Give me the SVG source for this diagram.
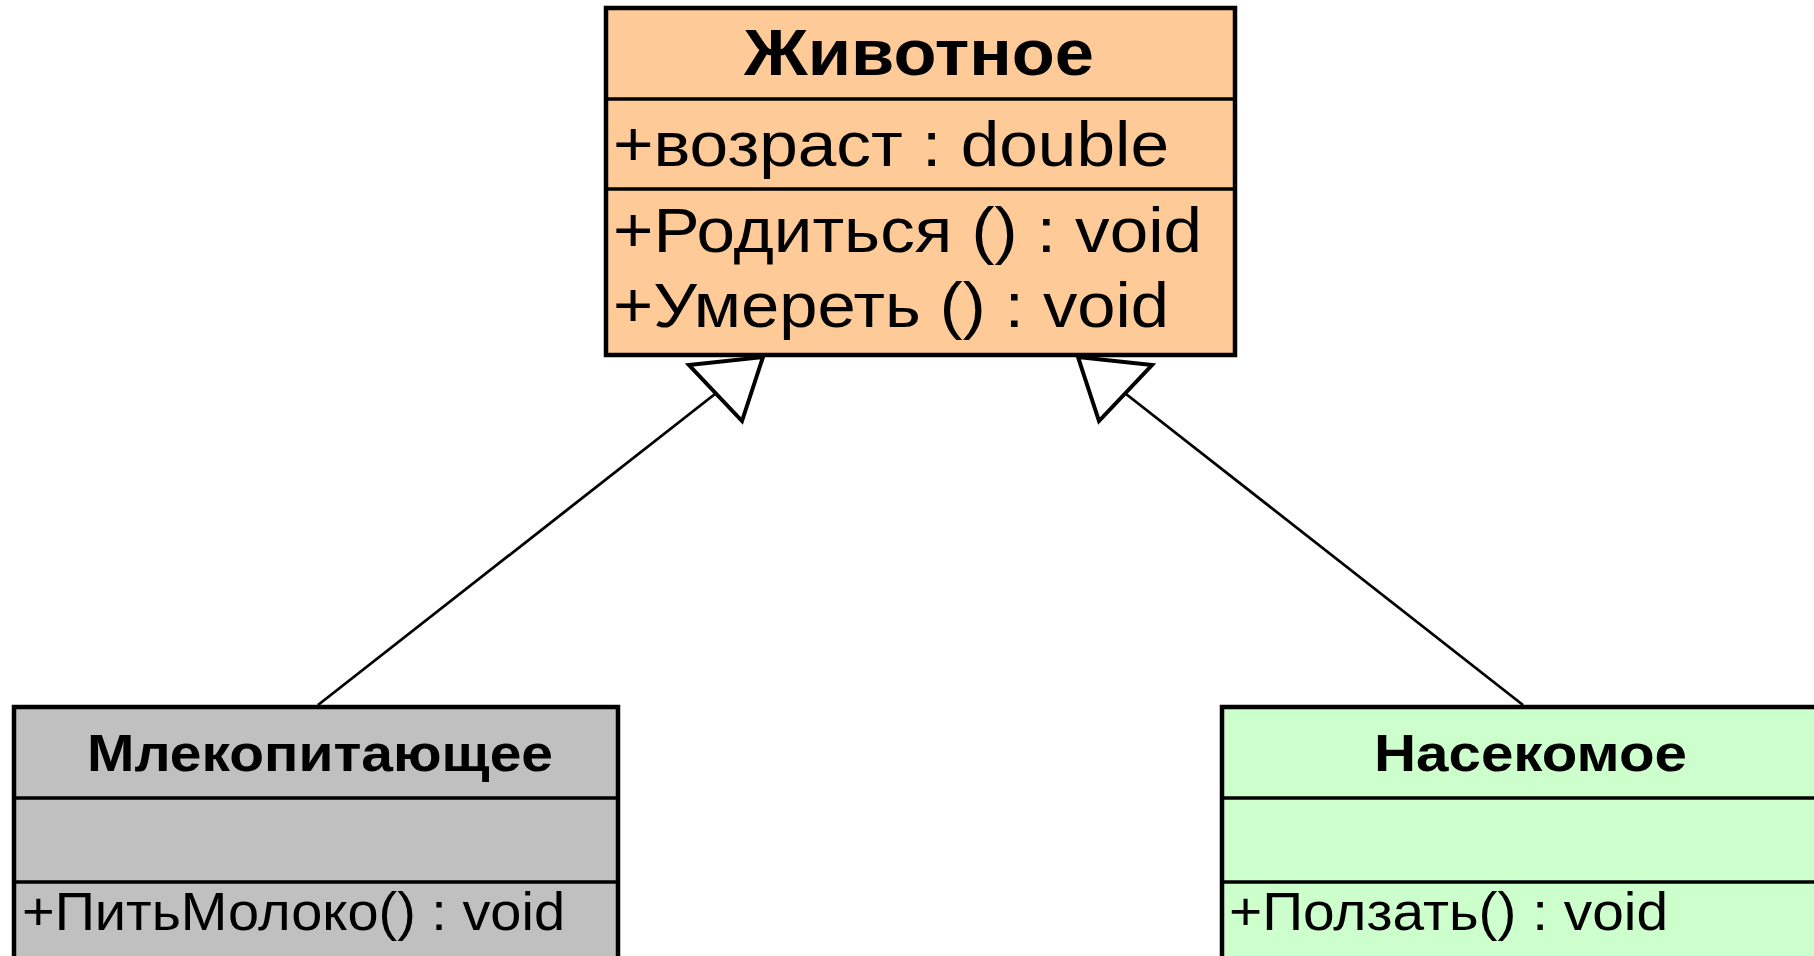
<svg xmlns="http://www.w3.org/2000/svg" width="1814" height="956" viewBox="0 0 1814 956">
  <style>
    .box { stroke: #000; stroke-width: 4.5; }
    .sep { stroke: #000; stroke-width: 3.5; fill: none; }
    .title { font-family: "Liberation Sans", Arial, sans-serif; font-weight: bold; fill: #000; }
    .member { font-family: "Liberation Sans", Arial, sans-serif; fill: #000; }
    .edge { stroke: #000; stroke-width: 2.8; fill: none; }
    .head { stroke: #000; stroke-width: 4; fill: #fff; stroke-linejoin: miter; }
  </style>
  <rect x="0" y="0" width="1814" height="956" fill="#fff"/>

  <!-- Base class -->
  <g id="animal">
    <rect class="box" x="606" y="8" width="629" height="347" fill="#FECB98"/>
    <line class="sep" x1="606" y1="99" x2="1235" y2="99"/>
    <line class="sep" x1="606" y1="189" x2="1235" y2="189"/>
    <text class="title" x="744" y="75" font-size="64" textLength="350" lengthAdjust="spacingAndGlyphs">Животное</text>
    <text class="member" x="613" y="166" font-size="63" textLength="556" lengthAdjust="spacingAndGlyphs">+возраст : double</text>
    <text class="member" x="613" y="252" font-size="63" textLength="589" lengthAdjust="spacingAndGlyphs">+Родиться () : void</text>
    <text class="member" x="613" y="327" font-size="63" textLength="556" lengthAdjust="spacingAndGlyphs">+Умереть () : void</text>
  </g>

  <!-- Subclass: mammal -->
  <g id="mammal">
    <rect class="box" x="14" y="707" width="604" height="300" fill="#C0C0C0"/>
    <line class="sep" x1="14" y1="798" x2="618" y2="798"/>
    <line class="sep" x1="14" y1="882" x2="618" y2="882"/>
    <text class="title" x="87" y="771" font-size="52" textLength="466" lengthAdjust="spacingAndGlyphs">Млекопитающее</text>
    <text class="member" x="22" y="930" font-size="53" textLength="543" lengthAdjust="spacingAndGlyphs">+ПитьМолоко() : void</text>
  </g>

  <!-- Subclass: insect -->
  <g id="insect">
    <rect class="box" x="1222" y="707" width="640" height="300" fill="#CCFFCC"/>
    <line class="sep" x1="1222" y1="798" x2="1862" y2="798"/>
    <line class="sep" x1="1222" y1="882" x2="1862" y2="882"/>
    <text class="title" x="1374" y="771" font-size="52" textLength="313" lengthAdjust="spacingAndGlyphs">Насекомое</text>
    <text class="member" x="1229" y="930" font-size="53" textLength="439" lengthAdjust="spacingAndGlyphs">+Ползать() : void</text>
  </g>

  <!-- Generalization connectors -->
  <g id="connectors">
    <line class="edge" x1="318" y1="705" x2="715" y2="394"/>
    <polygon class="head" points="689,365 763,357 742,421"/>
    <line class="edge" x1="1523" y1="705" x2="1126" y2="394"/>
    <polygon class="head" points="1152,365 1078,357 1099,421"/>
  </g>
</svg>
